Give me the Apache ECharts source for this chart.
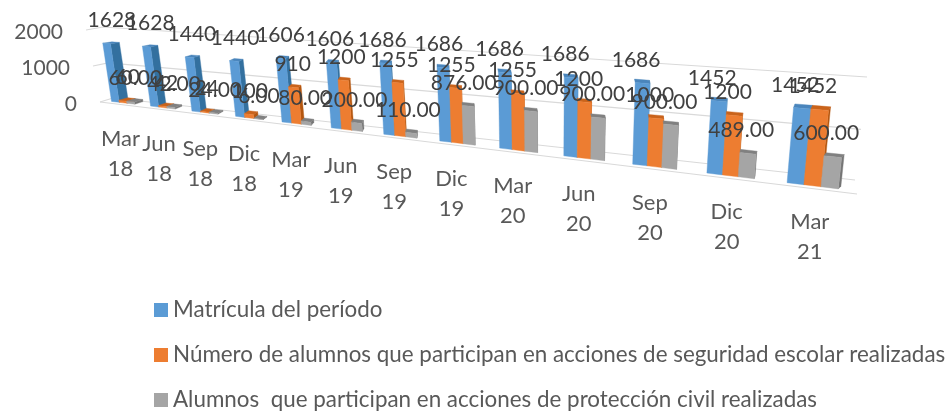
<!DOCTYPE html>
<html><head><meta charset="utf-8">
<style>html,body{margin:0;padding:0;background:#fff}#c{width:949px;height:414px}</style>
<script src="https://cdn.jsdelivr.net/npm/echarts@6/dist/echarts.min.js"></script>
</head><body><div id="c"></div>
<script>
const categories = ['Mar 18','Jun 18','Sep 18','Dic 18','Mar 19','Jun 19','Sep 19','Dic 19','Mar 20','Jun 20','Sep 20','Dic 20','Mar 21'];
const matricula = [1628,1628,1440,1440,1606,1606,1686,1686,1686,1686,1686,1452,1452];
const seguridad = [60,42,24,100,910,1200,1255,1255,1255,1200,1000,1200,1452];
const proteccion = [60,42,24,6,80,200,110,876,900,900,900,489,600];
const yTicks = [0,1000,2000];
const seriesNames = ['Matrícula del período','Número de alumnos que participan en acciones de seguridad escolar realizadas','Alumnos  que participan en acciones de protección civil realizadas'];

const W=949,H=414,FONT='Lato, Carlito, sans-serif';
function quad(q){
  const [[x0,y0],[x1,y1],[x2,y2],[x3,y3]]=q;
  const dx1=x1-x2,dx2=x3-x2,sx=x0-x1+x2-x3,dy1=y1-y2,dy2=y3-y2,sy=y0-y1+y2-y3;
  const den=dx1*dy2-dx2*dy1,g=(sx*dy2-dx2*sy)/den,h=(dx1*sy-sx*dy1)/den;
  const a=x1-x0+g*x1,b=x3-x0+h*x3,d=y1-y0+g*y1,e=y3-y0+h*y3;
  return (u,v)=>{const w=g*u+h*v+1;return [(a*u+b*v+x0)/w,(d*u+e*v+y0)/w];};
}
const front=quad([[104,100.5],[856,191],[868,83],[93,29]]);
const back =quad([[113.5,98],[859,188.5],[871,79],[102.5,28]]);
const wall =quad([[113,98],[855,180],[867,77],[103,27]]);
const sideEdge=v=>[100-14*v,102-72*v];
const floorFront=[[100,102],[857,194]];

const faces=[
  {front:'#5B9BD5',side:'#33709F',top:'#4A85BC'},
  {front:'#ED7D31',side:'#B4560F',top:'#C9631B'},
  {front:'#A5A5A5',side:'#757575',top:'#808080'}
];
const uv=(api,i,val)=>{const p=api.coord([i,val]);return [p[0]/W,1-p[1]/H];};
function barItem(k){
  return (params,api)=>{
    const i=api.value(0),val=api.value(1);
    const [uc,v]=uv(api,i,val);
    const band=api.size([1,0])[0]/W;
    const u0=uc+band*(-0.3+k*0.2),u1=u0+band*0.2,c=faces[k];
    const side=[front(u1,0),back(u1,0),back(u1,v),front(u1,v)];
    const top=[front(u0,v),front(u1,v),back(u1,v),back(u0,v)];
    const fr=[front(u0,0),front(u1,0),front(u1,v),front(u0,v)];
    const poly=(points,fill)=>({type:'polygon',shape:{points},style:{fill,stroke:fill,lineWidth:0.4}});
    return {type:'group',children:[poly(side,c.side),poly(top,c.top),poly(fr,c.front)]};
  };
}
function labelItem(k,fmt){
  return (params,api)=>{
    const i=api.value(0),val=api.value(1);
    const [uc,v]=uv(api,i,val);
    const band=api.size([1,0])[0]/W;
    const u=uc+band*(-0.2+k*0.2),a=front(u,v),b=back(u,v);
    return {type:'text',x:(a[0]+b[0])/2+1-9*u,y:a[1]-23,style:{text:fmt(val),font:'21px '+FONT,fill:'#404040',align:'center',verticalAlign:'middle'}};
  };
}
const toData=a=>a.map((v,i)=>[i,v]);
const enc={x:0,y:1};
const gridSeries={type:'custom',coordinateSystem:'cartesian2d',silent:true,z:1,clip:false,encode:enc,
  data:yTicks.map(t=>[0,t]),
  renderItem:(params,api)=>{
    const v=uv(api,0,api.value(1))[1];
    const line={stroke:'#D9D9D9',lineWidth:1.2,fill:null};
    const kids=[{type:'polyline',shape:{points:[sideEdge(v),wall(0,v),wall(1,v)]},style:line}];
    if(api.value(1)===0) kids.push({type:'polyline',shape:{points:floorFront},style:line});
    return {type:'group',children:kids};
  }};
const yLabelSeries={type:'custom',coordinateSystem:'cartesian2d',silent:true,z:5,clip:false,encode:enc,
  data:yTicks.map(t=>[0,t]),
  renderItem:(params,api)=>{
    const t=api.value(1),v=uv(api,0,t)[1],p=sideEdge(v);
    return {type:'text',x:p[0]-23,y:p[1]+2,style:{text:String(t),font:'21px '+FONT,fill:'#595959',align:'right',verticalAlign:'middle'}};
  }};
const catLabelSeries={type:'custom',coordinateSystem:'cartesian2d',silent:true,z:5,clip:false,encode:enc,
  data:categories.map((c,i)=>[i,0]),
  renderItem:(params,api)=>{
    const i=api.value(0),uc=uv(api,i,0)[0],p=front(uc,0);
    return {type:'text',x:p[0]-2-16*uc*(1-uc),y:p[1]+51,style:{text:categories[i].replace(' ','\n'),font:'22px '+FONT,lineHeight:30,fill:'#595959',align:'center',verticalAlign:'middle'}};
  }};
const arrays=[matricula,seguridad,proteccion];
const barSeries=arrays.map((a,k)=>({type:'custom',name:seriesNames[k],coordinateSystem:'cartesian2d',z:2+k*0.1,clip:false,encode:enc,
  itemStyle:{color:faces[k].front},data:toData(a),renderItem:barItem(k)}));
const labelSeries=arrays.map((a,k)=>({type:'custom',coordinateSystem:'cartesian2d',silent:true,z:6,clip:false,encode:enc,
  data:toData(a),renderItem:labelItem(k,k===2?(x=>x.toFixed(2)):String)}));

const chart=echarts.init(document.getElementById('c'),null,{renderer:'canvas'});
chart.setOption({
  animation:false,
  backgroundColor:'#fff',
  tooltip:{show:false},
  grid:{left:0,top:0,width:W,height:H,containLabel:false},
  xAxis:{type:'category',data:categories,show:false},
  yAxis:{type:'value',min:0,max:2000,interval:1000,show:false},
  legend:{orient:'vertical',left:149,top:299,padding:[0,5],icon:'rect',itemWidth:14,itemHeight:14,itemGap:23,
    selectedMode:false,data:seriesNames,textStyle:{fontFamily:FONT,fontSize:22.4,color:'#595959'}},
  series:[gridSeries,...barSeries,yLabelSeries,catLabelSeries,...labelSeries]
});
</script></body></html>
